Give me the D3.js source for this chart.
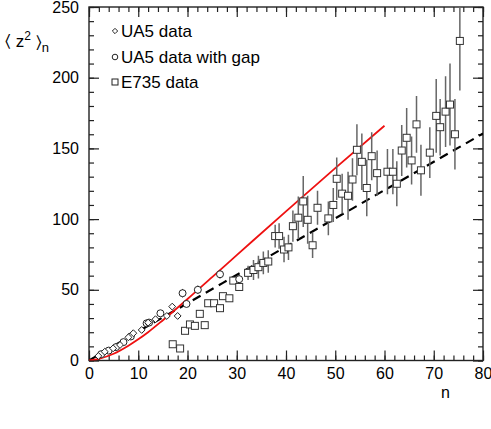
<!DOCTYPE html>
<html>
<head>
<meta charset="utf-8">
<script src="https://cdn.jsdelivr.net/npm/d3@7"></script>
<style>
  body { margin: 0; background: #fff; }
  svg { font-family: "Liberation Sans", Arial, sans-serif; }
</style>
</head>
<body>
<svg id="chart" width="491" height="429"></svg>
<script>
// UA5 data (diamonds)
const ua5N = [1.9, 3.2, 4.9, 6.3, 8, 9, 10.7, 12, 13.5, 15.8, 16.9, 18];
const ua5V = [3.2, 6.2, 8.6, 11, 16.4, 19.3, 21.6, 26.8, 29.2, 31.5, 38.1, 31.5];
// UA5 data with gap (circles)
const gapN = [2.5, 4, 5.5, 7, 8.5, 11.7, 12.2, 14.5, 19, 19.8, 22.1, 26.6, 30.5];
const gapV = [4.5, 7, 9.5, 13, 17, 26.3, 26.8, 33.4, 47.6, 40, 50, 61, 57.5];
const gapErr = [0, 0, 0, 0, 0, 0, 0, 0, 3, 2, 3, 3, 3];
// E735 data (squares with error bars)
const e735N = [17.0, 18.5, 19.5, 20.5, 21.5, 22.5, 23.5, 24.2, 25.4, 26.6, 27.2, 28.5, 29.3, 30.5,
  32.3, 33.4, 34.4, 35.4, 36.4, 37.8, 38.6, 39.6, 40.5, 41.4, 42.5, 43.5, 44.4, 45.4, 46.4,
  48.6, 49.6, 50.3, 51.4, 52.6, 53.5, 54.4, 55.4, 56.4, 57.4, 58.5, 60.6, 61.7, 62.5, 63.5,
  64.5, 65.5, 66.5, 67.4, 69.2, 70.5, 71.3, 72.4, 73.3, 74.3, 75.3];
const e735V = [11.5, 8.5, 21, 25.5, 24.5, 33, 25, 40.5, 40.5, 37, 45.5, 44, 56.5, 52,
  62, 64, 66, 69, 70, 88, 88, 78.5, 80, 95, 101, 112.5, 99.5, 81.5, 108,
  100.5, 110, 128.5, 118, 116.5, 128, 149, 140.5, 122, 144.5, 132.5, 133.5, 133.5, 125, 148.5,
  157.5, 141.5, 167, 134.5, 147, 173, 165, 176, 181, 160, 226];
const e735Err = [0, 0, 0, 0, 0, 0, 0, 0, 0, 0, 0, 0, 2, 2,
  5, 7, 8, 8, 8, 8, 9, 9, 9, 11, 15, 18, 17, 9, 12,
  12, 12, 15, 14, 17, 15, 18, 20, 20, 17, 16, 16, 16, 16, 18,
  21, 17, 20, 18, 18, 26, 20, 25, 29, 25, 35];
// model curves
const redN = [0, 2, 5, 8, 10, 12, 15, 20, 25, 30, 40, 50, 60];
const redV = [0, 1.2, 4.8, 10.5, 15, 20, 28.5, 43.5, 59, 74.5, 105.5, 136, 166];
const dashN = [0, 10, 20, 40, 60, 80];
const dashV = [0, 20.5, 40.5, 80.5, 120.5, 160.5];

const legendLabels = ["UA5 data", "UA5 data with gap", "E735 data"];

const svg = d3.select("#chart");
const x = d3.scaleLinear().domain([0, 80]).range([89, 483]);
const y = d3.scaleLinear().domain([0, 250]).range([360.5, 7]);
const axisColor = "#222";

svg.append("defs").append("clipPath").attr("id", "clip")
  .append("rect").attr("x", 89).attr("y", 7).attr("width", 394).attr("height", 353.5);

// axes with inward ticks on all four sides
function styleAxis(g) {
  g.select(".domain").remove();
  g.selectAll("line").attr("stroke", axisColor).attr("stroke-width", 1.2);
  g.selectAll("text").attr("fill", "#000").style("font-size", "16px");
}
const minorX = d3.range(0, 81, 2), minorY = d3.range(0, 251, 10);

svg.append("g").attr("transform", `translate(0,${y(0)})`)
  .call(d3.axisBottom(x).tickValues(minorX).tickSize(-5).tickFormat(""))
  .call(styleAxis);
svg.append("g").attr("transform", `translate(0,${y(0)})`)
  .call(d3.axisBottom(x).tickValues(d3.range(0, 81, 10)).tickSize(-10).tickPadding(7))
  .call(styleAxis);
svg.append("g").attr("transform", `translate(0,${y(250)})`)
  .call(d3.axisTop(x).tickValues(minorX).tickSize(-5).tickFormat(""))
  .call(styleAxis);
svg.append("g").attr("transform", `translate(0,${y(250)})`)
  .call(d3.axisTop(x).tickValues(d3.range(0, 81, 10)).tickSize(-10).tickFormat(""))
  .call(styleAxis);

svg.append("g").attr("transform", `translate(${x(0)},0)`)
  .call(d3.axisLeft(y).tickValues(minorY).tickSize(-5).tickFormat(""))
  .call(styleAxis);
svg.append("g").attr("transform", `translate(${x(0)},0)`)
  .call(d3.axisLeft(y).tickValues(d3.range(0, 251, 50)).tickSize(-10).tickPadding(10))
  .call(styleAxis);
svg.append("g").attr("transform", `translate(${x(80)},0)`)
  .call(d3.axisRight(y).tickValues(minorY).tickSize(-5).tickFormat(""))
  .call(styleAxis);
svg.append("g").attr("transform", `translate(${x(80)},0)`)
  .call(d3.axisRight(y).tickValues(d3.range(0, 251, 50)).tickSize(-10).tickFormat(""))
  .call(styleAxis);

svg.append("rect")
  .attr("x", x(0)).attr("y", y(250))
  .attr("width", x(80) - x(0)).attr("height", y(0) - y(250))
  .attr("fill", "none").attr("stroke", axisColor).attr("stroke-width", 1.4);

// axis titles
const yt = svg.append("text").attr("x", 5).attr("y", 47).style("font-size", "17px");
yt.append("tspan").text("\u2329 z");
yt.append("tspan").attr("dy", -7).style("font-size", "12px").text("2");
yt.append("tspan").attr("dy", 7).text(" \u232A");
yt.append("tspan").attr("dy", 5).style("font-size", "13px").text("n");

svg.append("text").attr("x", 441).attr("y", 398).style("font-size", "16px").text("n");

const plot = svg.append("g").attr("clip-path", "url(#clip)");

// curves
const line = d3.line().x(d => x(d[0])).y(d => y(d[1])).curve(d3.curveMonotoneX);
plot.append("path").datum(dashN.map((n, i) => [n, dashV[i]]))
  .attr("d", line).attr("fill", "none").attr("stroke", "#000")
  .attr("stroke-width", 2.2).attr("stroke-dasharray", "9,6");
plot.append("path").datum(redN.map((n, i) => [n, redV[i]]))
  .attr("d", line).attr("fill", "none").attr("stroke", "#ee1111")
  .attr("stroke-width", 1.8);

// E735 error bars + squares
const e735 = e735N.map((n, i) => ({ n, v: e735V[i], e: e735Err[i] }));
plot.selectAll(".eb").data(e735.filter(d => d.e > 0)).enter().append("line")
  .attr("x1", d => x(d.n)).attr("x2", d => x(d.n))
  .attr("y1", d => y(d.v - d.e)).attr("y2", d => y(d.v + d.e))
  .attr("stroke", "#666").attr("stroke-width", 1.5);
plot.selectAll(".sq").data(e735).enter().append("rect")
  .attr("x", d => x(d.n) - 3.5).attr("y", d => y(d.v) - 3.5)
  .attr("width", 7).attr("height", 7)
  .attr("fill", "#fff").attr("stroke", "#333").attr("stroke-width", 1);

// UA5 with gap: circles
const gap = gapN.map((n, i) => ({ n, v: gapV[i], e: gapErr[i] }));
plot.selectAll(".geb").data(gap.filter(d => d.e > 0)).enter().append("line")
  .attr("x1", d => x(d.n)).attr("x2", d => x(d.n))
  .attr("y1", d => y(d.v - d.e) + 0).attr("y2", d => y(d.v + d.e))
  .attr("stroke", "#222").attr("stroke-width", 1);
plot.selectAll(".ci").data(gap).enter().append("circle")
  .attr("cx", d => x(d.n)).attr("cy", d => y(d.v)).attr("r", 3.5)
  .attr("fill", "#fff").attr("stroke", "#222").attr("stroke-width", 1);

// UA5 diamonds
const diamond = d3.symbol().type(d3.symbolDiamond2).size(30);
plot.selectAll(".di").data(ua5N.map((n, i) => ({ n, v: ua5V[i] }))).enter().append("path")
  .attr("d", diamond)
  .attr("transform", d => `translate(${x(d.n)},${y(d.v)})`)
  .attr("fill", "#fff").attr("stroke", "#222").attr("stroke-width", 1);

// legend
const lg = svg.append("g");
const legendY = [31, 57, 82];
legendLabels.forEach((t, i) => {
  const cy = legendY[i];
  if (i === 0) lg.append("path").attr("d", d3.symbol().type(d3.symbolDiamond2).size(18)())
    .attr("transform", `translate(115,${cy})`).attr("fill", "#fff").attr("stroke", "#222");
  if (i === 1) lg.append("circle").attr("cx", 115).attr("cy", cy).attr("r", 2.8)
    .attr("fill", "#fff").attr("stroke", "#222");
  if (i === 2) lg.append("rect").attr("x", 112).attr("y", cy - 3).attr("width", 6).attr("height", 6)
    .attr("fill", "#fff").attr("stroke", "#222");
  lg.append("text").attr("x", 121).attr("y", cy + 6).style("font-size", "17px").text(t);
});
</script>
</body>
</html>
